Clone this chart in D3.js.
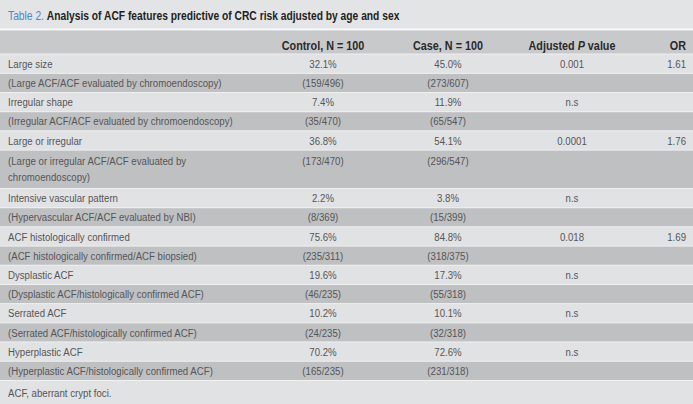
<!DOCTYPE html>
<html><head><meta charset="utf-8">
<script src="https://cdn.jsdelivr.net/npm/d3@7"></script>
<style>body{margin:0;background:#e3e4e6;} svg{display:block}</style>
</head><body><svg id="c" width="693" height="404"></svg>
<script>
const titleLabel = "Table 2.";
const titleText = "Analysis of ACF features predictive of CRC risk adjusted by age and sex";
const headers = ["", "Control, N = 100", "Case, N = 100", "Adjusted |P| value", "OR"];
const features = ["Large size","Irregular shape","Large or irregular","Intensive vascular pattern","ACF histologically confirmed","Dysplastic ACF","Serrated ACF","Hyperplastic ACF"];
const controlPct = ["32.1%","7.4%","36.8%","2.2%","75.6%","19.6%","10.2%","70.2%"];
const casePct = ["45.0%","11.9%","54.1%","3.8%","84.8%","17.3%","10.1%","72.6%"];
const pValues = ["0.001","n.s","0.0001","n.s","0.018","n.s","n.s","n.s"];
const oddsRatios = ["1.61","","1.76","","1.69","","",""];
const ratioLabels = ["(Large ACF/ACF evaluated by chromoendoscopy)","(Irregular ACF/ACF evaluated by chromoendoscopy)","(Large or irregular ACF/ACF evaluated by chromoendoscopy)","(Hypervascular ACF/ACF evaluated by NBI)","(ACF histologically confirmed/ACF biopsied)","(Dysplastic ACF/histologically confirmed ACF)","(Serrated ACF/histologically confirmed ACF)","(Hyperplastic ACF/histologically confirmed ACF)"];
const controlRatio = ["(159/496)","(35/470)","(173/470)","(8/369)","(235/311)","(46/235)","(24/235)","(165/235)"];
const caseRatio = ["(273/607)","(65/547)","(296/547)","(15/399)","(318/375)","(55/318)","(32/318)","(231/318)"];
const footnote = "ACF, aberrant crypt foci.";

const W = 693, H = 404;
const svg = d3.select("#c");
const font = "'Liberation Sans', Arial, sans-serif";
const bodySize = 11.5, bodySx = 0.84, lineH = 16, wrapW = 236;
const light = "#e1e2e4", dark = "#bfc0c2", headBg = "#c8c9cb", sep = "#f1f1f2", txt = "#555657";

function addText(sel, x, y, s, o) {
  o = o || {};
  return sel.append("text")
    .attr("transform", `translate(${x},${y}) scale(${o.sx || bodySx},1)`)
    .attr("dy", "0.35em")
    .attr("text-anchor", o.anchor || "start")
    .attr("font-family", font).attr("font-size", o.size || bodySize)
    .attr("font-weight", o.weight || "normal")
    .attr("fill", o.fill || txt)
    .text(s);
}

// measure helper for wrapping
const meas = svg.append("text").attr("font-family", font).attr("font-size", bodySize).attr("visibility","hidden");
function wrap(s) {
  const words = s.split(" "); const lines = []; let cur = "";
  words.forEach(w => {
    const t = cur ? cur + " " + w : w;
    meas.text(t);
    if (meas.node().getComputedTextLength() * bodySx > wrapW && cur) { lines.push(cur); cur = w; } else cur = t;
  });
  lines.push(cur); return lines;
}

// build rows
const rows = [];
features.forEach((f, i) => {
  rows.push({lines:[f], cells:[controlPct[i], casePct[i], pValues[i], oddsRatios[i]], fill: light, span: 1});
  const l = wrap(ratioLabels[i]);
  rows.push({lines:l, cells:[controlRatio[i], caseRatio[i], "", ""], fill: dark, span: l.length});
});
let u = 0; rows.forEach(r => { r.start = u; u += r.span; });
const totalUnits = u;
const y = d3.scaleLinear().domain([0, totalUnits]).range([54.7, 381]);
const colX = d3.scaleOrdinal().domain([0,1,2,3,4]).range([8, 323, 448, 572, 686]);
const colAnchor = ["start","middle","middle","middle","end"];

// background
svg.append("rect").attr("width", W).attr("height", H).attr("fill", "#e3e4e6");

// title
const tt = addText(svg, 8, 15, null, {size: 13, sx: 0.79, fill: "#231f20"});
tt.append("tspan").attr("fill", "#4a8ac6").text(titleLabel + "  ");
tt.append("tspan").attr("font-weight", "bold").text(titleText);

// header band
svg.append("rect").attr("x",0).attr("y",28.5).attr("width",W).attr("height",2).attr("fill","#fafafa");
svg.append("rect").attr("x",0).attr("y",30.5).attr("width",W).attr("height",y(0)-30.5-1).attr("fill",headBg);
svg.append("rect").attr("x",0).attr("y",y(0)-1).attr("width",W).attr("height",1).attr("fill",sep);
headers.forEach((h, j) => {
  if (!h) return;
  const t = addText(svg, colX(j), 46, null, {anchor: colAnchor[j], size: 12, sx: 0.9, weight: "bold", fill: "#2a2a2b"});
  h.split("|").forEach((p, k) => t.append("tspan").attr("font-style", k === 1 ? "italic" : "normal").text(p));
});

// rows
const g = svg.selectAll("g.row").data(rows).join("g").attr("class","row");
g.append("rect").attr("x",0).attr("y", d => y(d.start)).attr("width", W)
  .attr("height", d => y(d.start + d.span) - y(d.start) - 1).attr("fill", d => d.fill);
g.append("rect").attr("x",0).attr("y", d => y(d.start + d.span) - 1).attr("width", W).attr("height",1).attr("fill",sep);
g.each(function(d) {
  const sel = d3.select(this);
  const mid = (y(d.start) + y(d.start + d.span)) / 2 - 0.5;
  const firstY = mid - (d.lines.length - 1) * lineH / 2;
  d.lines.forEach((l, k) => addText(sel, colX(0), firstY + k * lineH, l));
  d.cells.forEach((c, j) => { if (c) addText(sel, colX(j+1), firstY, c, {anchor: colAnchor[j+1]}); });
});

// footnote
svg.append("rect").attr("x",0).attr("y", y(totalUnits)).attr("width", W).attr("height", H - y(totalUnits)).attr("fill", light);
addText(svg, 8, (y(totalUnits) + H) / 2, footnote);
meas.remove();
</script></body></html>
